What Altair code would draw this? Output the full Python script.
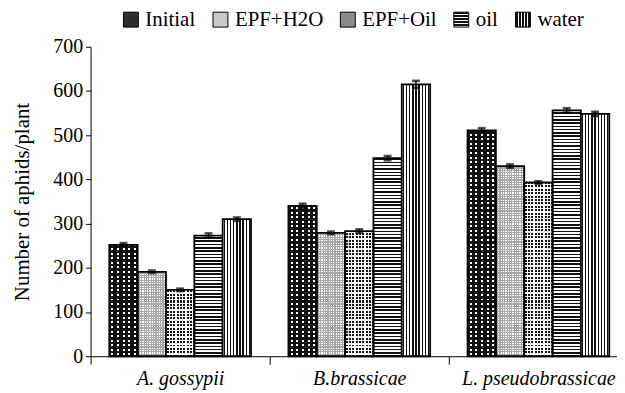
import altair as alt
import pandas as pd

# ---------------- data ----------------
groups = ["A. gossypii", "B.brassicae", "L. pseudobrassicae"]
treatments = ["Initial", "EPF+H2O", "EPF+Oil", "oil", "water"]

initial = [252, 340, 511]
epf_h2o = [191, 279, 430]
epf_oil = [150, 283, 393]
oil = [273, 448, 556]
water = [310, 615, 548]

initial_err = [4, 5, 5]
epf_h2o_err = [3, 3, 4]
epf_oil_err = [3, 4, 3]
oil_err = [5, 5, 5]
water_err = [4, 8, 5]

y_ticks = [0, 100, 200, 300, 400, 500, 600, 700]

rows = []
for t, vals, errs in zip(
    treatments,
    [initial, epf_h2o, epf_oil, oil, water],
    [initial_err, epf_h2o_err, epf_oil_err, oil_err, water_err],
):
    for g, v, e in zip(groups, vals, errs):
        rows.append({"group": g, "treatment": t, "value": v, "err": e})
df = pd.DataFrame(rows)

# ---------------- style helpers ----------------
FONT = "'Liberation Serif', 'Times New Roman', Times, serif"
PLOT_W, PLOT_H = 529, 311
YMAX = 700
BAND = 180
PAD_OUT = 0.66
BAR_W = BAND / (5 + 2 * PAD_OUT)
CLEAR = "rgba(0,0,0,0)"


def stripe_stops(period, on, on_color, off_color, length, phase=0.0):
    segs = []
    s = phase - period
    while s < length:
        segs.append((s, s + on, on_color))
        segs.append((s + on, s + period, off_color))
        s += period
    stops = []
    for a, b, c in segs:
        a2, b2 = max(a, 0.0), min(b, length)
        if b2 <= a2:
            continue
        stops.append((a2 / length, c))
        stops.append((b2 / length, c))
    return stops


def stops_expr(stops):
    return "[" + ",".join("{offset:%.4f,color:'%s'}" % (o, c) for o, c in stops) + "]"


# row patterns (vertical gradient, constant pixel spacing across bars)
rowA = {
    "Initial": stripe_stops(4.6, 2.0, "#ffffff", "#111111", PLOT_H),
    "EPF+H2O": stripe_stops(2.4, 1.2, "#ffffff", "#a8a8a8", PLOT_H),
    "EPF+Oil": stripe_stops(3.4, 2.0, "#111111", "#ffffff", PLOT_H),
    "oil": stripe_stops(3.3, 1.5, "#111111", "#ffffff", PLOT_H),
    "water": [(0, "#ffffff"), (1, "#ffffff")],
}
# column patterns (horizontal gradient over the bar width)
colB = {
    "Initial": stripe_stops(5.7, 2.0, CLEAR, "#111111", BAR_W, (5.7 - 2.0) / 2 + 0.3),
    "EPF+H2O": stripe_stops(BAR_W / 12, 1.2, CLEAR, "#a8a8a8", BAR_W),
    "EPF+Oil": stripe_stops(BAR_W / 8.5, 2.0, CLEAR, "#ffffff", BAR_W, 0.6),
    "water": stripe_stops(BAR_W / 9, 1.4, "#111111", "#ffffff", BAR_W, 0.9),
}


def nested(mapping, default):
    expr = default
    for k, v in reversed(list(mapping.items())):
        expr = "(datum.treatment=='%s'?%s:%s)" % (k, v, expr)
    return expr


gradA_expr = (
    "{gradient:'linear',x1:0.5,x2:0.5,y1:1-%d/datum.value,y2:1,stops:%s}"
    % (YMAX, nested({k: stops_expr(v) for k, v in rowA.items() if k != "water"},
                    stops_expr(rowA["water"])))
)
gradB_expr = nested(
    {k: "{gradient:'linear',x1:0,x2:1,y1:0,y2:0,stops:%s}" % stops_expr(v)
     for k, v in colB.items()},
    "'transparent'",
)

legend_oil = "{gradient:'linear',x1:0.5,x2:0.5,y1:0,y2:1,stops:%s}" % stops_expr(
    stripe_stops(3.0, 1.4, "#111111", "#ffffff", 15)
)
legend_water = "{gradient:'linear',x1:0,x2:1,y1:0,y2:0,stops:%s}" % stops_expr(
    stripe_stops(3.0, 1.4, "#111111", "#ffffff", 15, 0.8)
)
legend_range = ["#2e2e2e", "#c8c8c8", "#8a8a8a", {"expr": legend_oil}, {"expr": legend_water}]

# ---------------- encodings ----------------
x_enc = alt.X(
    "group:N",
    sort=groups,
    scale=alt.Scale(domain=groups, range=[0, BAND * 3], paddingInner=0, paddingOuter=0),
    axis=alt.Axis(
        title=None, labelAngle=0, labelFont=FONT, labelFontStyle="italic",
        labelFontSize=20, labelColor="black", tickBand="extent", tickSize=8,
        labelPadding=4, domainColor="black", tickColor="black", grid=False,
    ),
)
xo_enc = alt.XOffset(
    "treatment:N",
    sort=treatments,
    scale=alt.Scale(domain=treatments, paddingInner=0, paddingOuter=PAD_OUT),
)
y_enc = alt.Y(
    "value:Q",
    stack=None,
    scale=alt.Scale(domain=[0, YMAX], nice=False),
    axis=alt.Axis(
        title="Number of aphids/plant", values=y_ticks, tickSize=5, labelPadding=3,
        labelFont=FONT, labelFontSize=20, labelColor="black", titleFont=FONT,
        titleFontSize=21, titleFontWeight="normal", titleColor="black",
        titlePadding=20, domainColor="black", tickColor="black", grid=False,
    ),
)

base = alt.Chart(df)

legend_bars = base.mark_bar().encode(
    x=x_enc, xOffset=xo_enc, y=y_enc,
    color=alt.Color(
        "treatment:N",
        scale=alt.Scale(domain=treatments, range=legend_range),
        legend=alt.Legend(
            title=None, orient="none", legendX=30, legendY=-38, direction="horizontal",
            symbolType="square", symbolSize=225, symbolStrokeColor="black",
            symbolStrokeWidth=1, labelFont=FONT, labelFontSize=21, labelColor="black",
            labelOffset=4, columnPadding=14, padding=0,
        ),
    ),
)

rows_layer = base.transform_calculate(gradA=gradA_expr).mark_bar().encode(
    x=x_enc, xOffset=xo_enc, y=y_enc,
    fill=alt.Fill("gradA:N", scale=None, legend=None),
)

cols_layer = base.transform_calculate(gradB=gradB_expr).mark_bar(
    stroke="black", strokeWidth=1.8
).encode(
    x=x_enc, xOffset=xo_enc, y=y_enc,
    fill=alt.Fill("gradB:N", scale=None, legend=None),
)

err_base = base.transform_calculate(
    lo="datum.value - datum.err", hi="datum.value + datum.err"
)
err_rule = err_base.mark_rule(color="black", strokeWidth=1.5).encode(
    x=x_enc, xOffset=xo_enc, y=alt.Y("lo:Q"), y2="hi:Q"
)
cap_hi = err_base.mark_tick(color="black", size=8, thickness=2.5).encode(
    x=x_enc, xOffset=xo_enc, y=alt.Y("hi:Q")
)
cap_lo = err_base.mark_tick(color="black", size=8, thickness=2.5).encode(
    x=x_enc, xOffset=xo_enc, y=alt.Y("lo:Q")
)

chart = (
    alt.layer(legend_bars, rows_layer, cols_layer, err_rule, cap_hi, cap_lo)
    .properties(
        width=PLOT_W, height=PLOT_H,
        autosize=alt.AutoSizeParams(type="none"),
        padding={"left": 83, "top": 38, "right": 0, "bottom": 36},
        background="white",
    )
    .configure_view(stroke=None)
)

chart.save("out.html", embed_options={"renderer": "svg", "actions": False})
